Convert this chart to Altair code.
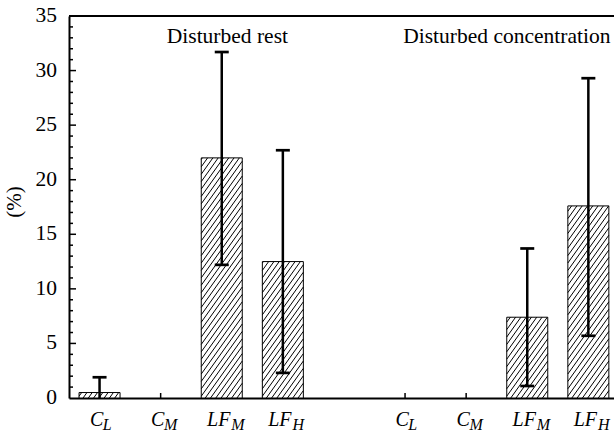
import altair as alt
import pandas as pd

# ---------------- data ----------------
POSITIONS = [1, 2, 3, 4, 6, 7, 8, 9]
MAIN = ["C", "C", "LF", "LF", "C", "C", "LF", "LF"]
SUB = ["L", "M", "M", "H", "L", "M", "M", "H"]
VALUES = [0.5, 0.0, 22.0, 12.5, 0.0, 0.0, 7.4, 17.6]
ERR_HI = [1.9, 0.0, 31.7, 22.7, 0.0, 0.0, 13.7, 29.3]
ERR_LO = [0.0, 0.0, 12.2, 2.3, 0.0, 0.0, 1.1, 5.7]
GROUP_LABELS = ["Disturbed rest", "Disturbed concentration"]
Y_TICKS = [0, 5, 10, 15, 20, 25, 30, 35]
Y_TITLE = "(%)"

# ---------------- layout constants ----------------
FONT = "Liberation Serif"
W_PLOT, H_PLOT = 545, 382
X_MIN, X_MAX = 0.5, 0.5 + 545 / 61.1
Y_MAX = 35
PX_X = W_PLOT / (X_MAX - X_MIN)
PX_Y = H_PLOT / Y_MAX
BW = 20.5 / PX_X          # half bar width in data units
BAR_W = 2 * BW * PX_X     # bar width px
SLOPE = 1.4               # hatch slope (px/px)
SP = 7.4                  # vertical spacing of hatch lines (px)
CAP = 7.0 / PX_X          # half cap width in data units

df = pd.DataFrame({"pos": POSITIONS, "main": MAIN, "sub": SUB,
                   "value": VALUES, "hi": ERR_HI, "lo": ERR_LO})
df["zero"] = 0.0

XS = alt.Scale(domain=[X_MIN, X_MAX], nice=False, zero=False)
YS = alt.Scale(domain=[0, Y_MAX], nice=False)
YAX = alt.Axis(values=Y_TICKS, labels=False, ticks=False, grid=False,
               domainColor="black", domainWidth=2, title=None)
XAX = alt.Axis(labels=False, ticks=False, grid=False, domainColor="black",
               domainWidth=2, title=None)


def X(f):
    return alt.X(f, type="quantitative", scale=XS, axis=XAX, title=None)


def Y(f):
    return alt.Y(f, type="quantitative", scale=YS, axis=YAX, title=None)


base = alt.Chart(df)

# small upward ticks on the x axis
xticks = base.mark_rule(color="black", strokeWidth=1.5).encode(
    x=X("pos"), y=alt.value(H_PLOT), y2=alt.value(H_PLOT - 5))

# inward ticks on the y axis
tick_df = pd.DataFrame({"v": list(range(1, Y_MAX))})
tick_df["major"] = tick_df["v"] % 5 == 0
yt_major = alt.Chart(tick_df).transform_filter("datum.major").mark_rule(
    color="black", strokeWidth=1.5).encode(
    y=Y("v"), x=alt.value(0), x2=alt.value(7))
yt_minor = alt.Chart(tick_df).transform_filter("!datum.major").mark_rule(
    color="black", strokeWidth=1.5).encode(
    y=Y("v"), x=alt.value(0), x2=alt.value(4))

# y tick labels and title as serif text
ylab = alt.Chart(pd.DataFrame({"v": Y_TICKS})).mark_text(
    align="right", baseline="middle", font=FONT, fontSize=21.5,
    color="black").encode(y=Y("v"), x=alt.value(-12), text="v:Q")
ytitle = alt.Chart(pd.DataFrame({"t": [Y_TITLE]})).mark_text(
    align="center", baseline="middle", angle=270, font=FONT, fontSize=21,
    color="black").encode(x=alt.value(-54), y=alt.value(186), text="t:N")

bars = base.transform_filter("datum.value > 0").transform_calculate(
    bx1=f"datum.pos - {BW}", bx2=f"datum.pos + {BW}"
).mark_bar(fill="white", stroke="black", strokeWidth=1).encode(
    x=X("bx1"), x2="bx2:Q", y=Y("value"), y2="zero:Q")

hatch = base.transform_filter("datum.value > 0").transform_calculate(
    hpx=f"datum.value * {PX_Y}"
).transform_calculate(
    k=f"sequence(0, ceil((datum.hpx + {SLOPE * BAR_W}) / {SP}) + 1)"
).transform_flatten(["k"]).transform_calculate(
    t=f"datum.k * {SP} - {SLOPE * BAR_W}"
).transform_calculate(
    fs=f"max(0, -datum.t / {SLOPE})",
    fe=f"min({BAR_W}, (datum.hpx - datum.t) / {SLOPE})"
).transform_filter("datum.fe > datum.fs + 0.3").transform_calculate(
    hx1=f"datum.pos - {BW} + datum.fs / {PX_X}",
    hx2=f"datum.pos - {BW} + datum.fe / {PX_X}",
    hy1=f"(datum.t + {SLOPE} * datum.fs) / {PX_Y}",
    hy2=f"(datum.t + {SLOPE} * datum.fe) / {PX_Y}"
).mark_rule(color="black", strokeWidth=1).encode(
    x=X("hx1"), x2="hx2:Q", y=Y("hy1"), y2="hy2:Q")

err = base.transform_filter("datum.hi > 0").mark_rule(
    color="black", strokeWidth=2.5).encode(
    x=X("pos"), y=Y("lo"), y2="hi:Q")

cap_hi = base.transform_filter("datum.hi > 0").transform_calculate(
    cx1=f"datum.pos - {CAP}", cx2=f"datum.pos + {CAP}"
).mark_rule(color="black", strokeWidth=2.7).encode(
    x=X("cx1"), x2="cx2:Q", y=Y("hi"))
cap_lo = base.transform_filter("datum.lo > 0").transform_calculate(
    cx1=f"datum.pos - {CAP}", cx2=f"datum.pos + {CAP}"
).mark_rule(color="black", strokeWidth=2.7).encode(
    x=X("cx1"), x2="cx2:Q", y=Y("lo"))

one = alt.Chart(pd.DataFrame({"a": [0]}))
top_line = one.mark_rule(color="black", strokeWidth=2).encode(
    y=alt.value(0), x=alt.value(0), x2=alt.value(W_PLOT))

ann1 = one.mark_text(align="left", baseline="alphabetic", font=FONT,
                     fontSize=21.5, color="black").encode(
    x=alt.X(datum=2.1, scale=XS, axis=XAX, title=None),
    y=alt.Y(datum=32.5, scale=YS, axis=YAX, title=None),
    text=alt.value(GROUP_LABELS[0]))
ann2 = one.mark_text(align="left", baseline="alphabetic", font=FONT,
                     fontSize=21.5, color="black").encode(
    x=alt.X(datum=5.97, scale=XS, axis=XAX, title=None),
    y=alt.Y(datum=32.5, scale=YS, axis=YAX, title=None),
    text=alt.value(GROUP_LABELS[1]))

lab_main = base.mark_text(align="center", baseline="alphabetic", dx=-3,
                          font=FONT, fontSize=20, fontStyle="italic",
                          color="black").encode(
    x=X("pos"), y=alt.value(H_PLOT + 28), text="main:N")
lab_sub = base.transform_calculate(
    sx=f"datum.pos + (6.3 * length(datum.main) - 3) / {PX_X}"
).mark_text(align="left", baseline="alphabetic", font=FONT, fontSize=16,
            fontStyle="italic", color="black").encode(
    x=X("sx"), y=alt.value(H_PLOT + 32), text="sub:N")

chart = alt.layer(
    xticks, yt_major, yt_minor, bars, hatch, err, cap_hi, cap_lo,
    top_line, ann1, ann2, lab_main, lab_sub, ylab, ytitle
).properties(
    width=W_PLOT, height=H_PLOT,
    padding={"left": 69, "top": 16, "right": 0, "bottom": 36},
    autosize="none", background="white"
).configure_view(stroke=None).configure_text(font=FONT)

chart.save("out.html", embed_options={"renderer": "svg", "actions": False})
